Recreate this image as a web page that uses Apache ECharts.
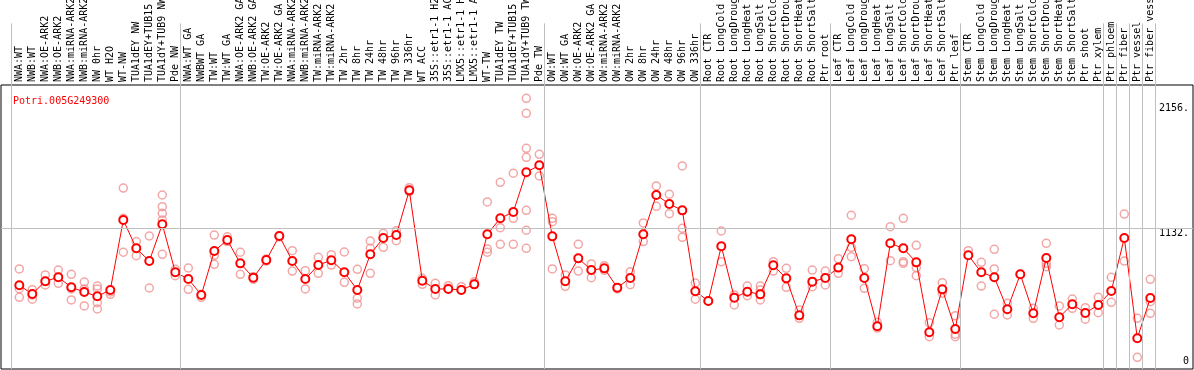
<!DOCTYPE html>
<html>
<head>
<meta charset="utf-8">
<script src="https://cdn.jsdelivr.net/npm/echarts@6/dist/echarts.min.js"></script>
<style>html,body{margin:0;padding:0;background:#fff}#c{width:1194px;height:370px}</style>
</head>
<body>
<div id="c"></div>
<script>
const geneName = 'Potri.005G249300';
const categories = ['NWA:WT','NWB:WT','NWA:OE-ARK2','NWB:OE-ARK2','NWA:miRNA-ARK2','NWB:miRNA-ARK2','NW 0hr','WT H2O','WT-NW','TUA1dEY NW','TUA1dEY+TUB15 NW','TUA1dY+TUB9 NW','Pde NW',
'NWA:WT GA','NWBWT GA','TW:WT','TW:WT GA','NWA:OE-ARK2 GA','NWB:OE-ARK2 GA','TW:OE-ARK2','TW:OE-ARK2 GA','NWA:miRNA-ARK2','NWB:miRNA-ARK2','TW:miRNA-ARK2','TW:miRNA-ARK2','TW 2hr','TW 8hr','TW 24hr','TW 48hr','TW 96hr','TW 336hr','WT ACC','35S::etr1-1 H2O','35S::etr1-1 ACC','LMX5::etr1-1 H2O','LMX5::etr1-1 ACC','WT-TW','TUA1dEY TW','TUA1dEY+TUB15 TW','TUA1dY+TUB9 TW','Pde TW',
'OW:WT','OW:WT GA','OW:OE-ARK2','OW:OE-ARK2 GA','OW:miRNA-ARK2','OW:miRNA-ARK2','OW 2hr','OW 8hr','OW 24hr','OW 48hr','OW 96hr','OW 336hr',
'Root CTR','Root LongCold','Root LongDrought','Root LongHeat','Root LongSalt','Root ShortCold','Root ShortDrought','Root ShortHeat','Root ShortSalt','Ptr root',
'Leaf CTR','Leaf LongCold','Leaf LongDrought','Leaf LongHeat','Leaf LongSalt','Leaf ShortCold','Leaf ShortDrought','Leaf ShortHeat','Leaf ShortSalt','Ptr leaf',
'Stem CTR','Stem LongCold','Stem LongDrought','Stem LongHeat','Stem LongSalt','Stem ShortCold','Stem ShortDrought','Stem ShortHeat','Stem ShortSalt','Ptr shoot','Ptr xylem',
'Ptr phloem','Ptr fiber','Ptr vessel','Ptr fiber vessel'];
const meanValues = [665,594,698,731,649,610,575,627,1200,968,864,1165,772,
717,586,946,1036,845,728,872,1069,864,717,831,870,772,627,919,1053,1077,1443,703,635,635,627,673,1083,1214,1266,1591,1648,
1066,698,886,790,804,646,725,1083,1405,1331,1279,616,
537,985,564,613,591,829,722,419,695,725,
810,1042,725,329,1009,968,853,280,632,307,
911,772,731,469,755,436,889,403,510,438,504,
618,1053,231,561];
const replicateValues = [
[799,637,567],[629,586,551],[750,698,668],[790,731,681],[755,635,545],[692,635,496],[659,635,523,471],[611,591],[1462,1214,936],[1023,968,908],[1069,864,643],[1405,1309,1255,1200,919],[796,744],
[807,632],[591,567],[1077,911,837],[1063,1023],[936,755],[736,714],[881,864],[1072,1061],[949,782],[785,635],[894,763],[916,831],[938,690],[796,559,512],[1028,968,763],[1091,976],[1112,1031],[1465,1432],[722,673],[681,586],[662,640],[654,627],[695,673],[1348,963,936],[1509,1137,1001],[1583,1214,1001],[2197,2074,1787,1714,1279,1116,968],[1738,1561],
[1214,1186,799],[750,657],[1001,782],[840,728],[826,788],[646,635],[777,670],[1176,1023],[1479,1312],[1411,1252],[1643,1132,1058],[684,551],
[537],[1110,859],[586,504],[659,580],[659,627,545],[859,782],[804,649],[463,395],[790,654],[782,668],
[883,763],[1239,976,899],[801,640],[362,315],[1145,867],[1214,859,845],[993,810,744],[359,244],[687,600],[416,264,244],
[949],[853,659],[960,799,428],[518,422],[755],[477,395],[1009,845,818],[496,340],[553,477],[482,387],[567,441],
[731,526],[1249,864],[395,75],[714,531,436]];
const groupEndIndex = [-1,12,40,52,62,72,83,84,85,86,87];
const yTickLabels = [1132, 2156];
const yZeroLabel = [0];
const gridLineValue = 1132;

const xMin = (1 - 19.3) / 13, xMax = (1193 - 19.3) / 13;
const sepOffset = 0.36;
const mono = 'DejaVu Sans Mono';

const meanData = meanValues.map((v, i) => [i, v]);
const repData = [];
replicateValues.forEach((arr, i) => arr.forEach(v => repData.push([i, v])));
const sepLines = groupEndIndex.map(i => ({ xAxis: i + sepOffset }));
const gray = { color: '#c0c0c0', type: 'solid', width: 1 };

const chart = echarts.init(document.getElementById('c'), null, { renderer: 'canvas' });
chart.setOption({
  animation: false,
  backgroundColor: '#fff',
  title: { text: geneName, left: 8, top: 91, textStyle: { color: '#ff0000', fontFamily: mono, fontSize: 10, fontWeight: 'normal' } },
  grid: [
    { left: 1, top: 85, width: 1192, height: 284, show: true, borderColor: '#000', borderWidth: 1, backgroundColor: 'transparent' },
    { left: 1, top: 0, width: 1192, height: 85 }
  ],
  xAxis: [
    { type: 'value', gridIndex: 0, min: xMin, max: xMax, show: false },
    { type: 'value', gridIndex: 1, min: xMin, max: xMax, position: 'bottom',
      axisLine: { show: false }, axisTick: { show: false }, splitLine: { show: false },
      axisLabel: { inside: true, rotate: 90, margin: 3, color: '#000', fontFamily: mono, fontSize: 10,
        customValues: categories.map((c, i) => i), formatter: v => categories[Math.round(v)] || '' } }
  ],
  yAxis: [
    { type: 'value', gridIndex: 0, min: -20.5, max: 2306, position: 'right',
      axisLine: { show: false }, axisTick: { show: false }, splitLine: { show: false },
      axisLabel: { inside: true, margin: 4, color: '#000', fontFamily: mono, fontSize: 10, verticalAlign: 'top',
        customValues: yTickLabels, formatter: v => v + '.' } },
    { type: 'value', gridIndex: 0, min: -20.5, max: 2306, position: 'right',
      axisLine: { show: false }, axisTick: { show: false }, splitLine: { show: false },
      axisLabel: { inside: true, margin: 4, color: '#000', fontFamily: mono, fontSize: 10, verticalAlign: 'bottom',
        customValues: yZeroLabel, formatter: v => String(v) } },
    { type: 'value', gridIndex: 1, min: 0, max: 1, show: false }
  ],
  series: [
    { type: 'line', xAxisIndex: 0, yAxisIndex: 0, data: [], silent: true,
      markLine: { silent: true, symbol: ['none', 'none'], label: { show: false }, lineStyle: gray,
        data: sepLines.concat([{ yAxis: gridLineValue }]) } },
    { type: 'line', xAxisIndex: 1, yAxisIndex: 2, data: [], silent: true,
      markLine: { silent: true, symbol: ['none', 'none'], label: { show: false }, lineStyle: gray, data: sepLines } },
    { type: 'scatter', xAxisIndex: 0, yAxisIndex: 0, data: repData, symbol: 'circle', symbolSize: 8,
      itemStyle: { color: 'rgba(0,0,0,0)', borderColor: '#f09090', borderWidth: 1.5 } },
    { type: 'line', xAxisIndex: 0, yAxisIndex: 0, data: meanData, symbol: 'circle', symbolSize: 8,
      lineStyle: { color: '#ff0000', width: 1 },
      itemStyle: { color: '#fff', borderColor: '#ff0000', borderWidth: 2 } }
  ]
});
</script>
</body>
</html>
